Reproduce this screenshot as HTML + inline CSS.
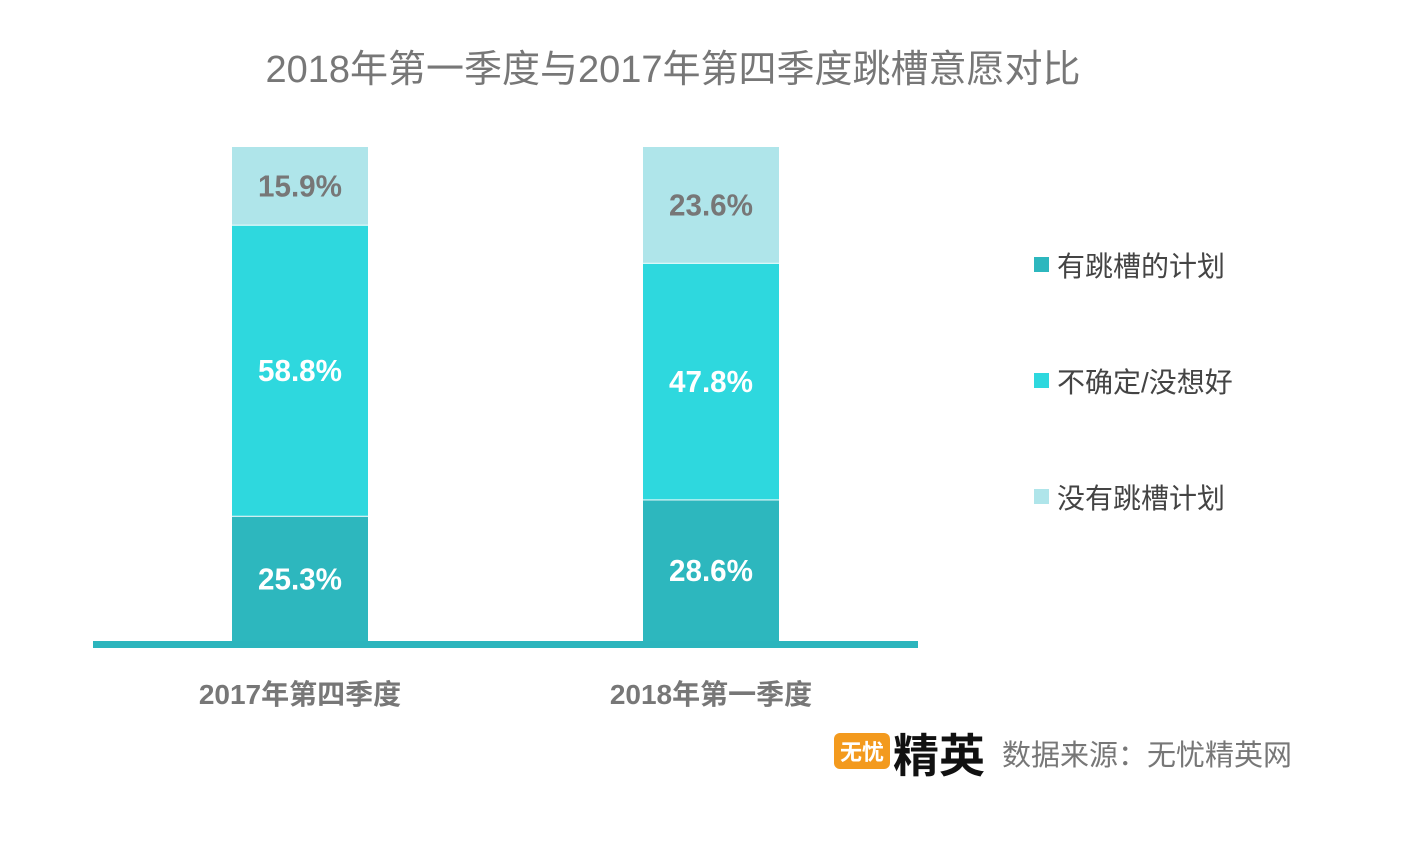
<!DOCTYPE html>
<html><head><meta charset="utf-8"><style>
body{margin:0;width:1417px;height:843px;background:#fff;overflow:hidden;font-family:"Liberation Sans","Noto Sans CJK SC",sans-serif;}
</style></head><body>
<svg id="chart" width="1417" height="843" xmlns="http://www.w3.org/2000/svg">
<text x="673" y="82" text-anchor="middle" font-size="38" fill="#777" font-family="Liberation Sans, Noto Sans CJK SC, sans-serif">2018年第一季度与2017年第四季度跳槽意愿对比</text>
<g id="bars"></g>
<rect x="93" y="641" width="825" height="7" fill="#2cb5bd"/>
<g font-size="28" fill="#444">
<rect x="1034" y="257" width="15" height="15" fill="#2db7be"/>
<text x="1057" y="276">有跳槽的计划</text>
<rect x="1034" y="373" width="15" height="15" fill="#2ed8de"/>
<text x="1057" y="392">不确定/没想好</text>
<rect x="1034" y="489" width="15" height="15" fill="#afe5ea"/>
<text x="1057" y="508">没有跳槽计划</text>
</g>
<g>
<rect x="834" y="733" width="56" height="36" rx="6" fill="#f39a1e"/>
<text x="862" y="760" text-anchor="middle" font-size="22" font-weight="bold" fill="#fff">无忧</text>
<text x="893" y="772" font-size="46" font-weight="bold" fill="#111">精英</text>
</g>
<text x="1002" y="765" font-size="29" fill="#777">数据来源：无忧精英网</text>
</svg>
<script>
const categories=["2017年第四季度","2018年第一季度"];
const planValues=[25.3,28.6];
const unsureValues=[58.8,47.8];
const noPlanValues=[15.9,23.6];
const svgNS="http://www.w3.org/2000/svg";
const g=document.getElementById('bars');
const baseY=641, topY=146, plotH=baseY-topY;
const y=v=>v/100*plotH;
const xCenter=i=>300+i*411;
const barW=136;
function mk(tag,attrs){const e=document.createElementNS(svgNS,tag);for(const k in attrs)e.setAttribute(k,attrs[k]);g.appendChild(e);return e;}
categories.forEach((c,i)=>{
  const series=[[planValues[i],"#2db7be","#fff","plan"],[unsureValues[i],"#2ed8de","#fff","unsure"],[noPlanValues[i],"#afe5ea","#777","noplan"]];
  let cum=0;
  series.forEach(s=>{
    const h=y(s[0]);const y0=baseY-cum-h;
    const r=mk('rect',{x:xCenter(i)-barW/2,y:y0+1,width:barW,height:h-1,fill:s[1]});
    
    
    const t=mk('text',{x:xCenter(i),y:y0+h/2+11,'text-anchor':'middle','font-size':31,'font-weight':'bold',fill:s[2],textLength:84,lengthAdjust:'spacingAndGlyphs'});
    t.textContent=s[0].toFixed(1)+'%';
    
    
    cum+=h;
  });
  const l=mk('text',{x:xCenter(i),y:704,'text-anchor':'middle','font-size':28,'font-weight':'bold',fill:'#777'});
  l.textContent=c;
  
  
});
</script>
</body></html>
